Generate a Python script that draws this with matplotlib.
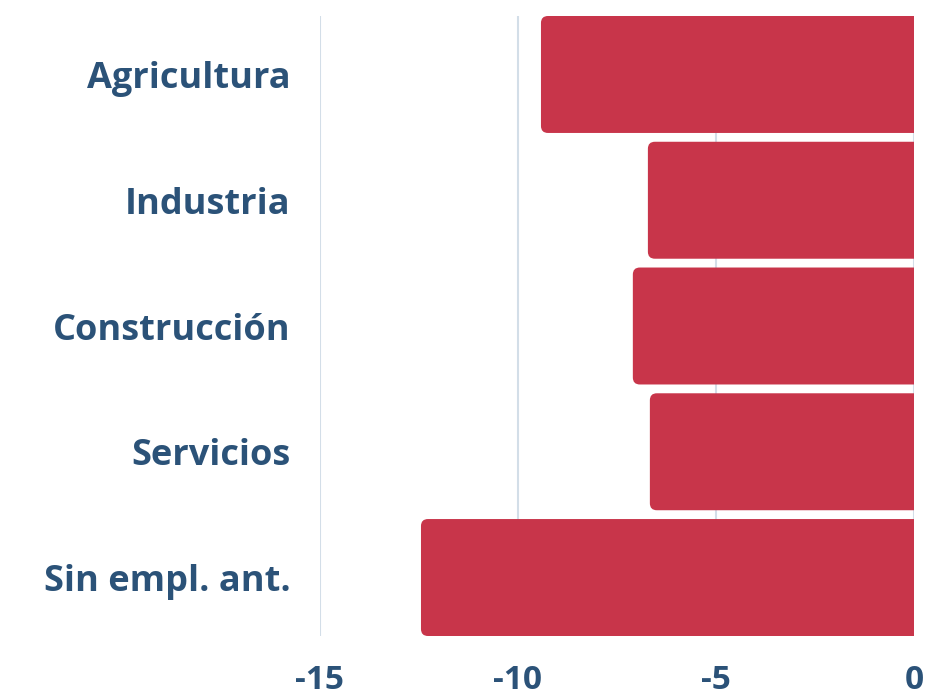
import matplotlib
matplotlib.use("Agg")
import matplotlib.pyplot as plt
from matplotlib.patches import FancyBboxPatch

categories = ["Agricultura", "Industria", "Construcción", "Servicios", "Sin empl. ant."]
values = [-9.42, -6.72, -7.10, -6.67, -12.45]
xticks = [-15, -10, -5, 0]
xticklabels = ["-15", "-10", "-5", "0"]

bar_color = "#C8354A"
text_color = "#2B5278"
grid_color = "#D3DEE8"

plt.rcParams['font.family'] = ['Open Sans', 'DejaVu Sans']

fig = plt.figure(figsize=(9.3, 6.96), dpi=100)
ax = fig.add_axes([320/930, 1-636/696, (914-320)/930, (636-16)/696])

ypos = list(range(len(categories)))
bars = ax.barh(ypos, values, height=0.93, color=bar_color)
ax.set_xlim(-15, 0)
ax.set_ylim(4.465, -0.465)

# replace with rounded bars
px_x = (914-320)/15.0
px_y = (636-16)/4.93
for b in bars:
    x0, y0, w, h = b.get_x(), b.get_y(), b.get_width(), b.get_height()
    left = min(x0, x0 + w)
    width = abs(w)
    b.set_visible(False)
    r = 7 / px_x
    p = FancyBboxPatch((left, y0), width + 0.5, h,
                       boxstyle=f"round,pad=0,rounding_size={r}",
                       mutation_aspect=px_x/px_y,
                       facecolor=bar_color, edgecolor="none", clip_on=True, zorder=2)
    ax.add_patch(p)

ax.set_yticks(ypos)
ax.set_yticklabels(categories)
ax.set_xticks(xticks)
ax.set_xticklabels(xticklabels)
ax.grid(axis="x", color=grid_color, linewidth=1.5, zorder=0)
ax.set_axisbelow(True)
for s in ax.spines.values():
    s.set_visible(False)
ax.tick_params(axis="both", length=0, colors=text_color)
ax.tick_params(axis="y", pad=21, labelsize=26)
ax.tick_params(axis="x", pad=20, labelsize=24)
for t in ax.get_yticklabels() + ax.get_xticklabels():
    t.set_fontweight("bold")
    t.set_color(text_color)

fig.savefig("out.png", dpi=100)
